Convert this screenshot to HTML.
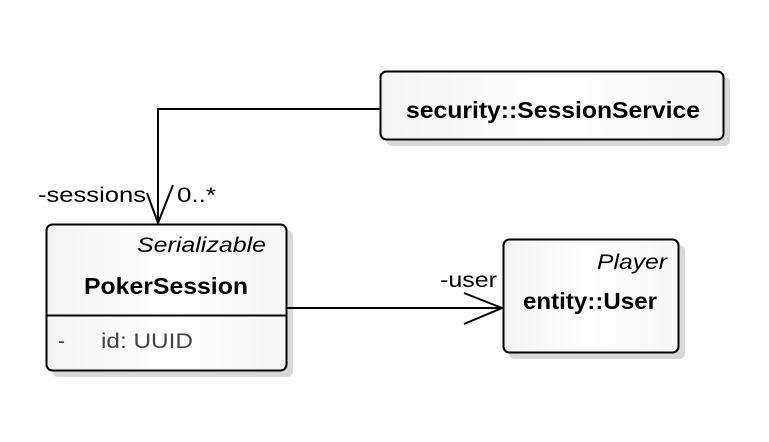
<!DOCTYPE html>
<html><head><style>
html,body{margin:0;padding:0;background:#fff;}
svg{display:block;}
text{font-family:"Liberation Sans",Arial,sans-serif;}
</style></head><body>
<svg width="769" height="442" viewBox="0 0 769 442" xmlns="http://www.w3.org/2000/svg">
<defs>
<linearGradient id="g" x1="0" x2="1" y1="0" y2="0">
<stop offset="0" stop-color="#f4f4f4"/><stop offset="0.5" stop-color="#ffffff"/><stop offset="1" stop-color="#f7f7f7"/>
</linearGradient>
</defs>
<rect x="386" y="77" width="344" height="69" rx="6" fill="#d8d8d8"/>
<rect x="52" y="230" width="241" height="147" rx="6" fill="#d8d8d8"/>
<rect x="509" y="245" width="176" height="114" rx="6" fill="#d8d8d8"/>
<rect x="380.5" y="71.5" width="343" height="68" rx="6" fill="url(#g)" stroke="#000" stroke-width="2"/>
<rect x="46.5" y="224.5" width="240" height="146" rx="6" fill="url(#g)" stroke="#000" stroke-width="2"/>
<line x1="46" y1="315.5" x2="287" y2="315.5" stroke="#000" stroke-width="2"/>
<rect x="503.5" y="239.5" width="175" height="113" rx="6" fill="url(#g)" stroke="#000" stroke-width="2"/>
<polyline points="380,109 158,109 158,223" fill="none" stroke="#000" stroke-width="2"/>
<polyline points="147,193 158,223 173,185" fill="none" stroke="#000" stroke-width="2"/>
<line x1="287" y1="308" x2="503" y2="308" stroke="#000" stroke-width="2"/>
<polyline points="464,293 502,308 464,324" fill="none" stroke="#000" stroke-width="2"/>
<text x="406" y="118" font-size="23" font-weight="bold" textLength="294" lengthAdjust="spacingAndGlyphs">security::SessionService</text>
<text x="137" y="252" font-size="21" font-style="italic" textLength="129" lengthAdjust="spacingAndGlyphs">Serializable</text>
<text x="84" y="294" font-size="23" font-weight="bold" textLength="164" lengthAdjust="spacingAndGlyphs">PokerSession</text>
<text x="58" y="348" font-size="21" fill="#444">-</text>
<text x="101" y="348" font-size="21" fill="#444" textLength="92" lengthAdjust="spacingAndGlyphs">id: UUID</text>
<text x="597" y="269" font-size="21" font-style="italic" textLength="70" lengthAdjust="spacingAndGlyphs">Player</text>
<text x="523" y="309" font-size="23" font-weight="bold" textLength="134" lengthAdjust="spacingAndGlyphs">entity::User</text>
<text x="38" y="202" font-size="21" textLength="108" lengthAdjust="spacingAndGlyphs">-sessions</text>
<text x="177" y="202" font-size="21" textLength="39" lengthAdjust="spacingAndGlyphs">0..*</text>
<text x="440" y="287" font-size="21" textLength="57" lengthAdjust="spacingAndGlyphs">-user</text>
</svg>
</body></html>
